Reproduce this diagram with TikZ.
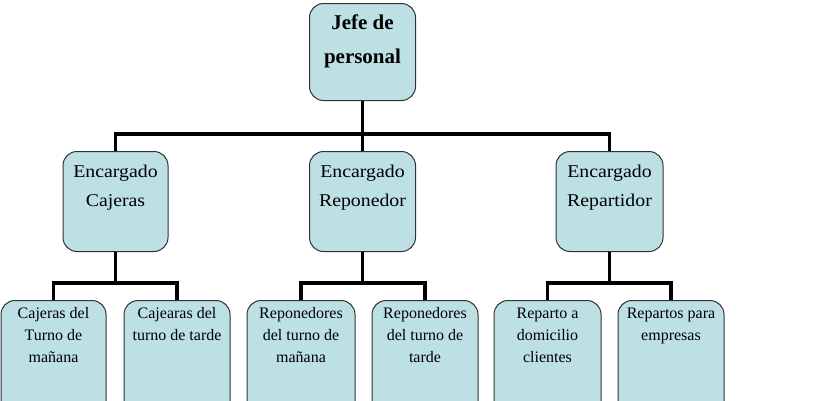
\documentclass[tikz,border=0pt]{standalone}
\usepackage{fontspec}
\setmainfont{Liberation Serif}
\newfontfamily\stretchfont[FakeStretch=1.1]{Liberation Serif}
\definecolor{boxfill}{RGB}{188,224,228}
\definecolor{boxborder}{RGB}{50,50,50}
\newcommand\bxt[5]{\parbox[c][#2][t]{#1}{\centering#3\rule{0pt}{#4}#5\par}}
\newcommand\topfnt{\fontsize{21}{34}\selectfont\bfseries}
\newcommand\midfnt{\stretchfont\fontsize{18}{29}\selectfont}
\newcommand\botfnt{\fontsize{16}{22}\selectfont}
\tikzset{
  box/.style={draw=boxborder, line width=1pt, fill=boxfill, rounded corners=14pt, inner sep=0pt, anchor=north},
  conn/.style={draw=black, line width=3.5pt, line join=miter}
}
\begin{document}
\begin{tikzpicture}[x=1pt,y=-1pt]
\useasboundingbox (0,0) rectangle (830,400);
\clip (0,0) rectangle (830,400);
\fill[white] (0,0) rectangle (830,400);
% boxes
\node[box] (top) at (362.5,3) {\bxt{106pt}{97pt}{\topfnt}{26pt}{Jefe de\\personal}};
\node[box] (m1) at (115.5,151) {\bxt{105pt}{100pt}{\midfnt}{26pt}{Encargado\\Cajeras}};
\node[box] (m2) at (362.5,151) {\bxt{106pt}{100pt}{\midfnt}{26pt}{Encargado\\Reponedor}};
\node[box] (m3) at (609.5,151) {\bxt{107pt}{100pt}{\midfnt}{26pt}{Encargado\\Repartidor}};
\node[box] (b1) at (53.5,300) {\bxt{105pt}{120pt}{\botfnt}{18pt}{Cajeras del\\Turno de\\mañana}};
\node[box] (b2) at (177,300) {\bxt{106pt}{120pt}{\botfnt}{18pt}{Cajearas del\\turno de tarde}};
\node[box] (b3) at (301,300) {\bxt{108pt}{120pt}{\botfnt}{18pt}{Reponedores\\del turno de\\mañana}};
\node[box] (b4) at (425,300) {\bxt{106pt}{120pt}{\botfnt}{18pt}{Reponedores\\del turno de\\tarde}};
\node[box] (b5) at (547.5,300) {\bxt{107pt}{120pt}{\botfnt}{18pt}{Reparto a\\domicilio\\clientes}};
\node[box] (b6) at (671,300) {\bxt{106pt}{120pt}{\botfnt}{18pt}{Repartos para\\empresas}};
% connectors
\coordinate (bar1) at (0,134);
\coordinate (bar2) at (0,283);
\draw[conn] (top.south) -- (m2.north);
\draw[conn] (m1.north) |- (m3.north |- bar1) -- (m3.north);
\draw[conn] (m1.south) -- (m1.south |- bar2);
\draw[conn] (b1.north) |- (b2.north |- bar2) -- (b2.north);
\draw[conn] (m2.south) -- (m2.south |- bar2);
\draw[conn] (b3.north) |- (b4.north |- bar2) -- (b4.north);
\draw[conn] (m3.south) -- (m3.south |- bar2);
\draw[conn] (b5.north) |- (b6.north |- bar2) -- (b6.north);
\end{tikzpicture}
\end{document}
